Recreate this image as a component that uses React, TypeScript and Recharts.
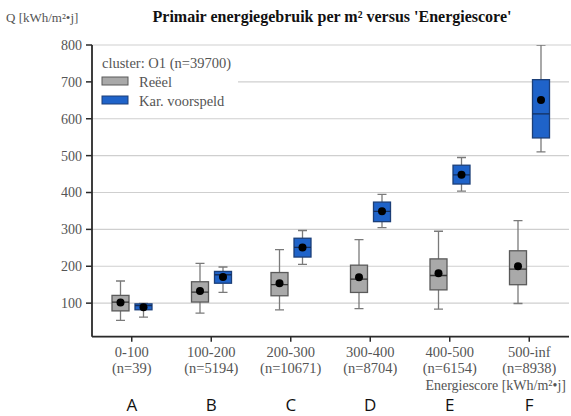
import React from 'react';
import { ComposedChart, Bar, XAxis, YAxis, CartesianGrid } from 'recharts';

const categories = ['0-100', '100-200', '200-300', '300-400', '400-500', '500-inf'];
const counts = ['(n=39)', '(n=5194)', '(n=10671)', '(n=8704)', '(n=6154)', '(n=8938)'];
const letters = ['A', 'B', 'C', 'D', 'E', 'F'];

const reeelMin = [53, 73, 82, 85, 84, 99];
const reeelQ1 = [79, 103, 120, 129, 136, 150];
const reeelMedian = [103, 130, 150, 165, 175, 192];
const reeelQ3 = [121, 158, 183, 203, 220, 242];
const reeelMax = [160, 208, 245, 272, 295, 324];
const reeelMean = [102, 133, 154, 170, 181, 200];

const voorMin = [62, 129, 205, 305, 404, 510];
const voorQ1 = [82, 154, 225, 321, 423, 548];
const voorMedian = [93, 177, 251, 349, 448, 613];
const voorQ3 = [98, 186, 276, 374, 474, 706];
const voorMax = [99, 198, 297, 395, 495, 800];
const voorMean = [89, 171, 251, 349, 448, 651];

const yTicks = [100, 200, 300, 400, 500, 600, 700, 800];

const data = categories.map((c, i) => ({
  cat: c,
  n: counts[i],
  letter: letters[i],
  r: { min: reeelMin[i], q1: reeelQ1[i], med: reeelMedian[i], q3: reeelQ3[i], max: reeelMax[i], mean: reeelMean[i] },
  v: { min: voorMin[i], q1: voorQ1[i], med: voorMedian[i], q3: voorQ3[i], max: voorMax[i], mean: voorMean[i] },
}));

const FONT = '"Liberation Serif", "Times New Roman", "DejaVu Serif", serif';

const makeBox = (key: 'r' | 'v', fill: string, stroke: string, medStroke: string) => (props: any) => {
  const { x, y, width, height, payload } = props;
  const s = payload[key];
  const top = Math.min(y, y + height);
  const bottom = Math.max(y, y + height);
  const span = s.max - s.min;
  const py = (v: number) => bottom - ((v - s.min) / span) * (bottom - top);
  const cx = x + width / 2;
  const cap = 4.5;
  return (
    <g>
      <line x1={cx} x2={cx} y1={py(s.max)} y2={py(s.q3)} stroke="#7a7a7a" strokeWidth={1.3} />
      <line x1={cx} x2={cx} y1={py(s.q1)} y2={py(s.min)} stroke="#7a7a7a" strokeWidth={1.3} />
      <line x1={cx - cap} x2={cx + cap} y1={py(s.max)} y2={py(s.max)} stroke="#7a7a7a" strokeWidth={1.3} />
      <line x1={cx - cap} x2={cx + cap} y1={py(s.min)} y2={py(s.min)} stroke="#7a7a7a" strokeWidth={1.3} />
      <rect x={x} y={py(s.q3)} width={width} height={py(s.q1) - py(s.q3)} fill={fill} stroke={stroke} strokeWidth={1.3} />
      <line x1={x} x2={x + width} y1={py(s.med)} y2={py(s.med)} stroke={medStroke} strokeWidth={1.3} />
      <circle cx={cx} cy={py(s.mean)} r={4} fill="#000" />
    </g>
  );
};

const XTick = (props: any) => {
  const { x, y, payload, index } = props;
  return (
    <g>
      <text x={x} y={y} dy={13.5} textAnchor="middle" fontFamily={FONT} fontSize={14.5} fill="#555">{payload.value}</text>
      <text x={x} y={y} dy={29.5} textAnchor="middle" fontFamily={FONT} fontSize={14.5} fill="#555">{counts[index]}</text>
      <text x={x} y={y} dy={67} textAnchor="middle" fontFamily='"Open Sans", "Liberation Sans", sans-serif' fontSize={17} fill="#111">{letters[index]}</text>
    </g>
  );
};

export default function App() {
  return (
    <div style={{ position: 'absolute', left: 0, top: 0, width: 571, height: 416, background: '#fff' }}>
      <ComposedChart width={571} height={416} data={data} margin={{ top: 45, right: 2, left: 0, bottom: 19.3 }} barSize={17} barGap={6}>
        <CartesianGrid vertical={false} stroke="#cfcfcf" strokeWidth={1.2} />
        <XAxis
          dataKey="cat"
          height={60}
          tick={<XTick />}
          tickSize={5}
          tickMargin={2}
          axisLine={{ stroke: '#2a2a2a', strokeWidth: 1.8 }}
          tickLine={{ stroke: '#2a2a2a', strokeWidth: 1.5 }}
          interval={0}
        />
        <YAxis
          width={92}
          domain={[9, 800]}
          ticks={yTicks}
          allowDataOverflow
          tickSize={6}
          tickMargin={4}
          axisLine={{ stroke: '#2a2a2a', strokeWidth: 1.8 }}
          tickLine={{ stroke: '#2a2a2a', strokeWidth: 1.5 }}
          tick={{ fontFamily: FONT, fontSize: 14, fill: '#555' }}
        />
        <Bar dataKey={(d: any) => [d.r.min, d.r.max]} isAnimationActive={false} shape={makeBox('r', '#a9a9a9', '#5a5a5a', '#333')} />
        <Bar dataKey={(d: any) => [d.v.min, d.v.max]} isAnimationActive={false} shape={makeBox('v', '#1f63c9', '#1c3f78', '#152f5c')} />
      </ComposedChart>
      <svg width={571} height={416} style={{ position: 'absolute', left: 0, top: 0, pointerEvents: 'none' }}>
        <line x1={569} x2={571} y1={45} y2={45} stroke="#cfcfcf" />
        <text x={332} y={22} textAnchor="middle" fontFamily={FONT} fontSize={16} fontWeight="bold" fill="#111">
          Primair energiegebruik per m² versus 'Energiescore'
        </text>
        <text x={6} y={22} fontFamily={FONT} fontSize={13} fill="#555">Q [kWh/m²•j]</text>
        <text x={566} y={390} textAnchor="end" fontFamily={FONT} fontSize={14} fill="#555">Energiescore [kWh/m²•j]</text>
        <rect x={93} y={50} width={145} height={63} fill="#fff" />
        <text x={102} y={68} fontFamily={FONT} fontSize={14.5} fill="#555">cluster: O1 (n=39700)</text>
        <rect x={102} y={77} width={26} height={8} fill="#a9a9a9" stroke="#5a5a5a" strokeWidth={1} />
        <text x={139} y={87} fontFamily={FONT} fontSize={14.5} fill="#555">Reëel</text>
        <rect x={102} y={96} width={26} height={8} fill="#1f63c9" stroke="#1c3f78" strokeWidth={1} />
        <text x={139} y={105.5} fontFamily={FONT} fontSize={14.5} fill="#555">Kar. voorspeld</text>
      </svg>
    </div>
  );
}
